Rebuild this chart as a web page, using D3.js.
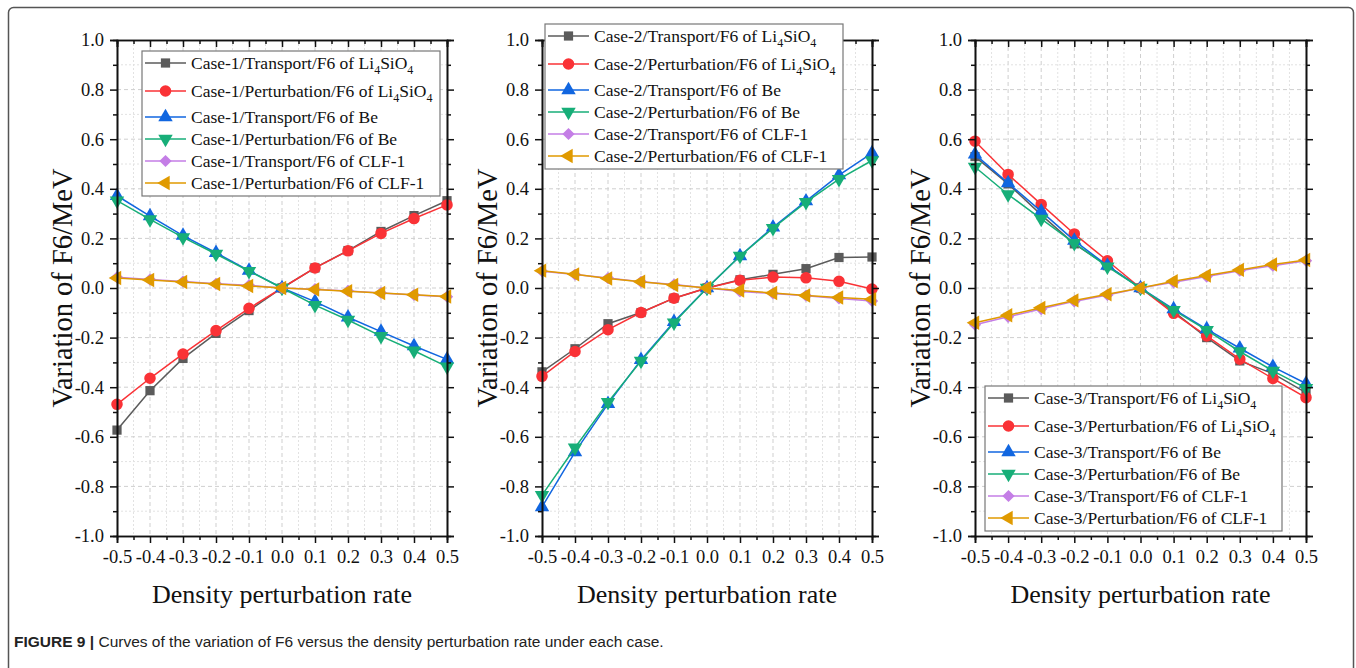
<!DOCTYPE html>
<html>
<head>
<meta charset="utf-8">
<script src="https://cdn.jsdelivr.net/npm/d3@7"></script>
<style>
  body { margin: 0; background: #fff; }
  svg { display: block; }
</style>
</head>
<body>
<div id="chart"></div>
<script>
// Density perturbation rate vs variation of F6, three cases ////////////////

var xVals = [-0.5, -0.4, -0.3, -0.2, -0.1, 0.0, 0.1, 0.2, 0.3, 0.4, 0.5];
var xTicks = [-0.5, -0.4, -0.3, -0.2, -0.1, 0.0, 0.1, 0.2, 0.3, 0.4, 0.5];
var yTicks = [-1.0, -0.8, -0.6, -0.4, -0.2, 0.0, 0.2, 0.4, 0.6, 0.8, 1.0];

// Case-1
var c1TransportLi    = [-0.573, -0.414, -0.284, -0.183, -0.091, 0, 0.081, 0.151, 0.228, 0.292, 0.352];
var c1PerturbLi      = [-0.469, -0.364, -0.266, -0.172, -0.082, 0, 0.081, 0.150, 0.220, 0.280, 0.335];
var c1TransportBe    = [0.372, 0.290, 0.211, 0.142, 0.070, 0, -0.055, -0.118, -0.176, -0.234, -0.288];
var c1PerturbBe      = [0.352, 0.277, 0.204, 0.137, 0.068, 0, -0.069, -0.129, -0.194, -0.253, -0.317];
var c1TransportClf   = [0.043, 0.034, 0.026, 0.017, 0.011, 0, -0.005, -0.012, -0.020, -0.028, -0.035];
var c1PerturbClf     = [0.040, 0.032, 0.024, 0.016, 0.008, 0, -0.006, -0.013, -0.020, -0.027, -0.034];

// Case-2
var c2TransportLi    = [-0.338, -0.245, -0.144, -0.099, -0.041, 0, 0.033, 0.055, 0.078, 0.123, 0.125];
var c2PerturbLi      = [-0.356, -0.256, -0.168, -0.099, -0.041, 0, 0.031, 0.044, 0.041, 0.027, -0.004];
var c2TransportBe    = [-0.883, -0.662, -0.467, -0.290, -0.136, 0, 0.129, 0.245, 0.350, 0.455, 0.544];
var c2PerturbBe      = [-0.835, -0.644, -0.460, -0.294, -0.140, 0, 0.129, 0.241, 0.346, 0.439, 0.514];
var c2TransportClf   = [0.068, 0.054, 0.040, 0.025, 0.014, 0, -0.014, -0.022, -0.031, -0.042, -0.052];
var c2PerturbClf     = [0.070, 0.055, 0.038, 0.025, 0.012, 0, -0.010, -0.020, -0.030, -0.038, -0.045];

// Case-3
var c3TransportLi    = [0.530, 0.420, 0.295, 0.178, 0.090, 0, -0.095, -0.200, -0.294, -0.345, -0.422];
var c3PerturbLi      = [0.592, 0.458, 0.337, 0.218, 0.110, 0, -0.102, -0.193, -0.287, -0.365, -0.442];
var c3TransportBe    = [0.539, 0.423, 0.309, 0.191, 0.090, 0, -0.085, -0.166, -0.243, -0.318, -0.385];
var c3PerturbBe      = [0.488, 0.377, 0.279, 0.181, 0.086, 0, -0.089, -0.170, -0.256, -0.334, -0.404];
var c3TransportClf   = [-0.148, -0.116, -0.085, -0.054, -0.028, 0, 0.023, 0.046, 0.070, 0.090, 0.110];
var c3PerturbClf     = [-0.140, -0.110, -0.080, -0.050, -0.025, 0, 0.027, 0.050, 0.073, 0.095, 0.113];

var methods = ['Transport', 'Perturbation', 'Transport', 'Perturbation', 'Transport', 'Perturbation'];
var materials = ['Li4SiO4', 'Li4SiO4', 'Be', 'Be', 'CLF-1', 'CLF-1'];
var colors = ['#5b5b5b', '#fa3236', '#1166e0', '#17ae78', '#c47ee6', '#e09a00'];
var symbols = ['square', 'circle', 'up', 'down', 'diamond', 'left'];

var caseNames = ['Case-1', 'Case-2', 'Case-3'];
var caseSeries = [
  [c1TransportLi, c1PerturbLi, c1TransportBe, c1PerturbBe, c1TransportClf, c1PerturbClf],
  [c2TransportLi, c2PerturbLi, c2TransportBe, c2PerturbBe, c2TransportClf, c2PerturbClf],
  [c3TransportLi, c3PerturbLi, c3TransportBe, c3PerturbBe, c3TransportClf, c3PerturbClf]
];

///////////////////////////////////////////////////////////////////////////////

var width = 1356;
var height = 668;
var plotTop = 40, plotBottom = 536;
var serif = '"Liberation Serif", "Times New Roman", serif';

var panels = [
  { left: 117, right: 447, legend: { x: 142, y: 51, w: 298 } },
  { left: 542, right: 872, legend: { x: 545, y: 24, w: 298 } },
  { left: 975, right: 1306, legend: { x: 985, y: 386, w: 297 } }
];
var legendRows = [12, 40, 66, 88, 110, 132];
var legendHeight = 145;

var fmt = function(d){ return d3.format('.1f')(d).replace('\u2212', '-'); };

var svg = d3.select('#chart').append('svg')
  .attr('width', width)
  .attr('height', height);

// outer frame of the figure
svg.append('rect')
  .attr('x', 8.5).attr('y', 7.5)
  .attr('width', 1345).attr('height', 680)
  .attr('rx', 5)
  .style('fill', 'none')
  .style('stroke', '#555')
  .style('stroke-width', 1.5);

panels.forEach(function(p, i){ drawPanel(p, caseNames[i], caseSeries[i]); });

// caption
var cap = svg.append('text')
  .attr('x', 14)
  .attr('y', 647)
  .style('font-family', '"Liberation Sans", Arial, sans-serif')
  .style('font-size', '15.5px')
  .style('fill', '#222');
cap.append('tspan').style('font-weight', 'bold').text('FIGURE 9 | ');
cap.append('tspan').text('Curves of the variation of F6 versus the density perturbation rate under each case.');

///////////////////////////////////////////////////////////////////////////////

function symbolPath(kind) {
  var s;
  if (kind === 'square') s = d3.symbol(d3.symbolSquare, 85);
  else if (kind === 'circle') s = d3.symbol(d3.symbolCircle, 105);
  else if (kind === 'diamond') s = d3.symbol(d3.symbolSquare, 75);
  else s = d3.symbol(d3.symbolTriangle, 90);
  return s();
}

function symbolRotate(kind) {
  if (kind === 'down') return 180;
  if (kind === 'left') return -90;
  if (kind === 'diamond') return 45;
  return 0;
}

function addLabel(sel, text) {
  // text with Li4SiO4 subscripts
  var parts = text.split('Li4SiO4');
  sel.append('tspan').text(parts[0]);
  if (parts.length > 1) {
    sel.append('tspan').text('Li');
    sel.append('tspan').attr('dy', 5).style('font-size', '12px').text('4');
    sel.append('tspan').attr('dy', -5).text('SiO');
    sel.append('tspan').attr('dy', 5).style('font-size', '12px').text('4');
  }
}

function drawPanel(p, caseName, series) {

  var x = d3.scaleLinear().domain([-0.5, 0.5]).range([p.left, p.right]);
  var y = d3.scaleLinear().domain([-1, 1]).range([plotBottom, plotTop]);

  var g = svg.append('g');

  // grid
  var xMinor = d3.range(-0.45, 0.5, 0.1);
  var yMinor = d3.range(-0.9, 1.0, 0.2);
  var grid = g.append('g');
  grid.selectAll('.vmaj').data(xTicks.slice(1, -1)).enter().append('line')
    .attr('x1', function(d){ return x(d); }).attr('x2', function(d){ return x(d); })
    .attr('y1', plotTop).attr('y2', plotBottom)
    .style('stroke', '#cfcfcf').style('stroke-dasharray', '4,3');
  grid.selectAll('.vmin').data(xMinor).enter().append('line')
    .attr('x1', function(d){ return x(d); }).attr('x2', function(d){ return x(d); })
    .attr('y1', plotTop).attr('y2', plotBottom)
    .style('stroke', '#e2e2e2').style('stroke-dasharray', '2,2');
  grid.selectAll('.hmaj').data(yTicks.slice(1, -1)).enter().append('line')
    .attr('y1', function(d){ return y(d); }).attr('y2', function(d){ return y(d); })
    .attr('x1', p.left).attr('x2', p.right)
    .style('stroke', '#cfcfcf').style('stroke-dasharray', '4,3');
  grid.selectAll('.hmin').data(yMinor).enter().append('line')
    .attr('y1', function(d){ return y(d); }).attr('y2', function(d){ return y(d); })
    .attr('x1', p.left).attr('x2', p.right)
    .style('stroke', '#e2e2e2').style('stroke-dasharray', '2,2');

  // series lines + markers
  var line = d3.line()
    .x(function(d, i){ return x(xVals[i]); })
    .y(function(d){ return y(d); });

  series.forEach(function(vals, k){
    g.append('path')
      .datum(vals)
      .attr('d', line)
      .style('fill', 'none')
      .style('stroke', colors[k])
      .style('stroke-width', 1.5);
    g.selectAll('.m' + k).data(vals).enter().append('path')
      .attr('d', symbolPath(symbols[k]))
      .attr('transform', function(d, i){
        return 'translate(' + x(xVals[i]) + ',' + y(d) + ') rotate(' + symbolRotate(symbols[k]) + ')';
      })
      .style('fill', colors[k]);
  });

  // axes
  var fontSize = '18.5px';
  var left = g.append('g').attr('transform', 'translate(' + p.left + ',0)')
    .call(d3.axisLeft(y).tickValues(yTicks).tickSize(7).tickPadding(6).tickFormat(fmt));
  left.append('g').call(d3.axisLeft(y).tickValues(yMinor).tickSize(4).tickFormat(''));
  var bot = g.append('g').attr('transform', 'translate(0,' + plotBottom + ')')
    .call(d3.axisBottom(x).tickValues(xTicks).tickSize(7).tickPadding(7).tickFormat(fmt));
  bot.append('g').call(d3.axisBottom(x).tickValues(xMinor).tickSize(4).tickFormat(''));
  var rightAx = g.append('g').attr('transform', 'translate(' + p.right + ',0)')
    .call(d3.axisLeft(y).tickValues(yTicks).tickSize(-7).tickFormat(''));
  rightAx.append('g').call(d3.axisLeft(y).tickValues(yMinor).tickSize(-4).tickFormat(''));
  var topAx = g.append('g').attr('transform', 'translate(0,' + plotTop + ')')
    .call(d3.axisBottom(x).tickValues(xTicks).tickSize(7).tickFormat(''));
  topAx.append('g').call(d3.axisBottom(x).tickValues(xMinor).tickSize(4).tickFormat(''));

  [left, bot, rightAx, topAx].forEach(function(a){
    a.selectAll('path.domain').style('stroke', '#111').style('stroke-width', 1.6);
    a.selectAll('line').style('stroke', '#111').style('stroke-width', 1.5);
    a.selectAll('text')
      .style('font-family', serif)
      .style('font-size', fontSize)
      .style('fill', '#111');
  });

  // axis titles
  g.append('text')
    .attr('x', (p.left + p.right) / 2)
    .attr('y', 603)
    .attr('text-anchor', 'middle')
    .style('font-family', serif)
    .style('font-size', '26px')
    .style('fill', '#111')
    .text('Density perturbation rate');
  g.append('text')
    .attr('transform', 'translate(' + (p.left - 45) + ',' + ((plotTop + plotBottom) / 2) + ') rotate(-90)')
    .attr('text-anchor', 'middle')
    .style('font-family', serif)
    .style('font-size', '28.5px')
    .style('fill', '#111')
    .text('Variation of F6/MeV');

  // legend
  var lg = g.append('g').attr('transform', 'translate(' + p.legend.x + ',' + p.legend.y + ')');
  lg.append('rect')
    .attr('width', p.legend.w)
    .attr('height', legendHeight)
    .style('fill', '#fff')
    .style('stroke', '#777')
    .style('stroke-width', 1.2);
  legendRows.forEach(function(ry, k){
    lg.append('line')
      .attr('x1', 3).attr('x2', 44)
      .attr('y1', ry).attr('y2', ry)
      .style('stroke', colors[k])
      .style('stroke-width', 1.5);
    lg.append('path')
      .attr('d', symbolPath(symbols[k]))
      .attr('transform', 'translate(23.5,' + ry + ') rotate(' + symbolRotate(symbols[k]) + ')')
      .style('fill', colors[k]);
    var t = lg.append('text')
      .attr('x', 49)
      .attr('y', ry + 6)
      .style('font-family', serif)
      .style('font-size', '17.5px')
      .style('fill', '#111');
    addLabel(t, caseName + '/' + methods[k] + '/F6 of ' + materials[k]);
  });
}
</script>
</body>
</html>
